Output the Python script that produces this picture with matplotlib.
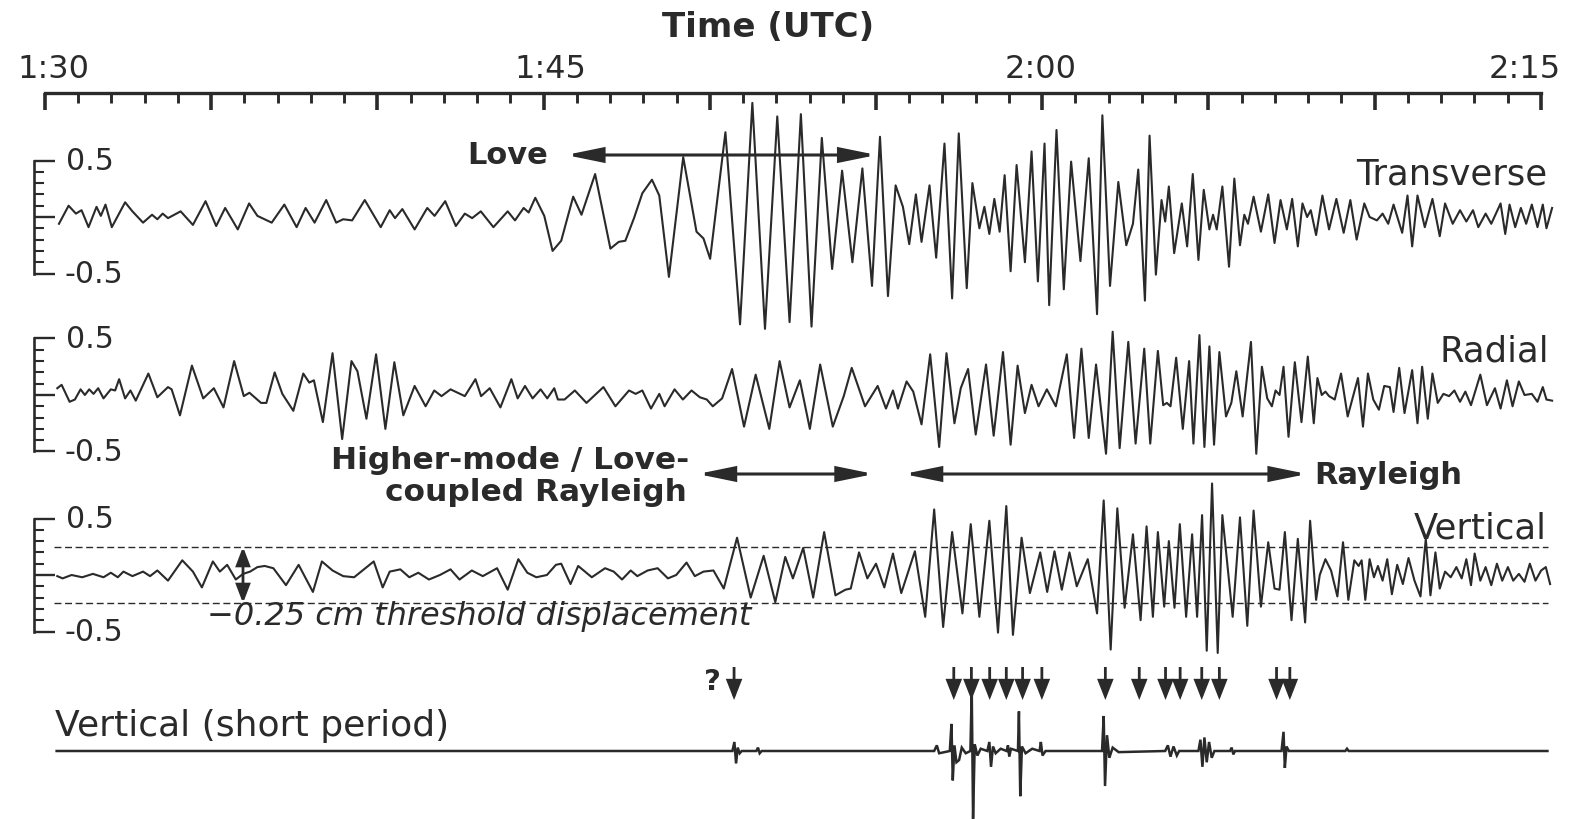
import numpy as np
import matplotlib
matplotlib.use("Agg")
import matplotlib.pyplot as plt
from matplotlib.patches import FancyArrowPatch
from matplotlib.ticker import FixedLocator, NullFormatter

# ---------------- DATA (time in minutes after 1:30 UTC, displacement in cm) ----------------
trans_t = [0.42, 0.71, 0.93, 1.10, 1.31, 1.55, 1.68, 1.82, 2.01, 2.41, 2.63, 2.95, 3.22, 3.38, 3.54, 3.70,
           4.08, 4.45, 4.83, 5.15, 5.42, 5.80, 6.14, 6.39, 6.82, 7.20, 7.57, 7.84, 8.11, 8.46, 8.76, 8.97,
           9.24, 9.62, 10.10, 10.37, 10.53, 10.75, 11.12, 11.50, 11.72, 12.04, 12.36, 12.63, 12.85, 13.11,
           13.49, 13.92, 14.14, 14.40, 14.55, 14.75,
           15.02, 15.27, 15.53, 15.89, 16.14, 16.55, 17.01, 17.26, 17.46, 17.72, 17.97, 18.26, 18.48, 18.77,
           19.20, 19.60, 19.81, 20.01, 20.47, 20.91, 21.28, 21.66, 22.03, 22.40, 22.74, 23.06, 23.37, 23.68,
           23.98, 24.29, 24.59, 24.88, 25.12, 25.36, 25.59, 25.81, 26.00, 26.20, 26.37, 26.61, 26.81, 27.06,
           27.29, 27.49, 27.73, 27.90, 28.11, 28.26, 28.41, 28.56, 28.72, 28.87, 29.05, 29.23, 29.48, 29.68,
           29.87, 30.07,
           30.21, 30.43, 30.65, 30.87, 31.15, 31.40, 31.65, 31.81, 32.04, 32.29, 32.53, 32.73, 32.89, 33.09,
           33.23, 33.42, 33.59, 33.70, 33.81, 33.97, 34.20, 34.36, 34.53, 34.70, 34.86, 35.03, 35.14, 35.25,
           35.42, 35.62, 35.78, 35.95, 36.08, 36.19, 36.36, 36.58, 36.80, 36.99, 37.17, 37.36, 37.52, 37.69,
           37.83, 37.97, 38.08, 38.24, 38.43, 38.63, 38.85, 39.07, 39.27, 39.46, 39.69, 39.85, 40.07, 40.24,
           40.41, 40.57, 40.83, 40.99, 41.13, 41.29, 41.51, 41.74, 41.96, 42.12, 42.35, 42.57, 42.76, 42.96,
           43.12, 43.34, 43.51, 43.79, 43.93, 44.06, 44.23, 44.40, 44.56, 44.73, 44.90, 45.06, 45.17, 45.34]
trans_a = [-0.06, 0.10, 0.03, 0.06, -0.09, 0.09, 0.01, 0.11, -0.09, 0.13, 0.05, -0.05, 0.02, -0.02, 0.03, -0.01,
           0.05, -0.07, 0.14, -0.08, 0.08, -0.11, 0.12, 0.01, -0.05, 0.11, -0.09, 0.08, -0.05, 0.15, -0.05, -0.02,
           -0.03, 0.15, -0.09, 0.06, -0.01, 0.07, -0.11, 0.08, 0.01, 0.14, -0.08, 0.03, -0.01, 0.05,
           -0.09, 0.05, -0.03, 0.08, 0.04, 0.17,
           0.01, -0.30, -0.21, 0.18, 0.02, 0.38, -0.28, -0.22, -0.21, -0.01, 0.21, 0.33, 0.19, -0.53,
           0.53, -0.13, -0.19, -0.37, 0.75, -0.95, 1.01, -0.99, 0.89, -0.93, 0.91, -0.97, 0.70, -0.46,
           0.41, -0.40, 0.43, -0.61, 0.71, -0.70, 0.28, 0.09, -0.24, 0.20, -0.22, 0.28, -0.36, 0.65,
           -0.72, 0.74, -0.63, 0.30, -0.10, 0.09, -0.15, 0.16, -0.13, 0.37, -0.48, 0.46, -0.40, 0.58,
           -0.57, 0.65,
           -0.78, 0.77, -0.64, 0.49, -0.39, 0.52, -0.86, 0.90, -0.61, 0.31, -0.25, -0.06, 0.42, -0.74,
           0.72, -0.51, 0.15, -0.04, 0.27, -0.32, 0.12, -0.26, 0.38, -0.38, 0.24, -0.11, 0.02, -0.11,
           0.27, -0.44, 0.34, -0.25, 0.02, -0.06, 0.18, -0.13, 0.20, -0.23, 0.15, -0.11, 0.16, -0.26,
           0.12, 0.00, 0.06, -0.16, 0.19, -0.11, 0.16, -0.14, 0.15, -0.20, 0.12, 0.00, -0.03, 0.03,
           -0.06, 0.11, -0.14, 0.19, -0.26, 0.19, -0.09, 0.16, -0.17, 0.12, -0.06, 0.06, -0.04, 0.06,
           -0.09, 0.03, -0.06, 0.12, -0.15, 0.11, -0.09, 0.08, -0.06, 0.11, -0.09, 0.11, -0.10, 0.08]

radial_t = [0.37, 0.50, 0.74, 0.90, 1.07, 1.20, 1.33, 1.46, 1.60, 1.76, 1.98, 2.11, 2.23, 2.41, 2.57, 2.73,
            3.11, 3.38, 3.70, 3.81, 4.06, 4.42, 4.76, 5.08, 5.37, 5.69, 5.98, 6.15, 6.50, 6.66, 6.91, 7.14,
            7.47, 7.77, 7.95, 8.09, 8.36, 8.65, 8.94, 9.22, 9.40, 9.67, 9.96, 10.24, 10.51, 10.78, 11.12,
            11.45, 11.71, 11.93, 12.20, 12.63, 12.95, 13.12, 13.38, 13.70, 14.03, 14.22, 14.44, 14.67,
            14.91, 15.11, 15.32,
            15.43, 15.63, 15.94, 16.29, 16.80, 17.16, 17.57, 17.77, 17.97, 18.23, 18.48, 18.64, 18.94,
            19.19, 19.45, 19.70, 19.91, 20.09, 20.37, 20.67, 21.03, 21.38, 21.79, 22.10, 22.40, 22.71,
            23.01, 23.32, 23.70, 24.03, 24.27, 24.67, 25.05, 25.30, 25.51, 25.66, 25.92, 26.12, 26.37,
            26.63, 26.90, 27.12, 27.36, 27.55, 27.77, 28.00, 28.31, 28.54, 28.82, 29.05, 29.26, 29.48,
            29.68, 29.89, 30.14,
            30.41, 30.74, 30.96, 31.18, 31.40, 31.62, 31.92, 32.12, 32.33, 32.59, 32.81, 33.07, 33.25,
            33.48, 33.64, 33.75, 33.86, 34.03, 34.23, 34.42, 34.55, 34.73, 34.88, 35.03, 35.17, 35.33,
            35.53, 35.69, 35.84, 36.03, 36.28, 36.44, 36.61, 36.77, 36.91, 37.02, 37.14, 37.26, 37.41,
            37.60, 37.80, 37.99, 38.17, 38.28, 38.41, 38.52, 38.63, 38.80, 38.99, 39.19, 39.50, 39.65,
            39.80, 39.96, 40.13, 40.29, 40.46, 40.57, 40.74, 40.90, 41.13, 41.29, 41.43, 41.60, 41.74,
            41.90, 42.07, 42.24, 42.40, 42.57, 42.73, 42.90, 43.18, 43.38, 43.62, 43.79, 43.98, 44.15,
            44.34, 44.51, 44.73, 44.90, 45.06, 45.17, 45.34]
radial_a = [0.06, 0.09, -0.06, -0.04, 0.05, 0.00, 0.05, 0.01, 0.06, -0.03, 0.05, 0.04, 0.14, -0.03, 0.04, -0.05,
            0.19, -0.02, 0.07, 0.05, -0.18, 0.26, -0.03, 0.06, -0.11, 0.30, -0.01, 0.02, -0.07, -0.07, 0.20, 0.01,
            -0.14, 0.19, 0.11, 0.13, -0.24, 0.37, -0.39, 0.30, 0.21, -0.21, 0.36, -0.30, 0.29, -0.18, 0.08,
            -0.10, 0.04, -0.01, 0.05, -0.01, 0.14, -0.01, 0.06, -0.11, 0.14, -0.03, 0.08, -0.03,
            0.05, -0.03, 0.06,
            -0.04, -0.04, 0.04, -0.07, 0.07, -0.10, 0.04, 0.01, 0.04, -0.12, 0.01, -0.10, 0.05,
            -0.04, 0.04, -0.02, -0.04, -0.10, -0.03, 0.23, -0.28, 0.18, -0.30, 0.30, -0.11, 0.13,
            -0.30, 0.27, -0.28, -0.01, 0.24, -0.10, 0.08, -0.12, 0.04, -0.12, 0.12, 0.03, -0.26,
            0.36, -0.46, 0.37, -0.25, 0.06, 0.23, -0.35, 0.27, -0.36, 0.38, -0.44, 0.26, -0.16,
            0.09, -0.10, 0.05,
            -0.10, 0.36, -0.38, 0.41, -0.38, 0.27, -0.52, 0.56, -0.47, 0.47, -0.43, 0.41, -0.43,
            0.39, -0.09, -0.07, -0.10, 0.33, -0.30, 0.30, -0.43, 0.53, -0.46, 0.43, -0.44, 0.38,
            -0.19, -0.07, 0.21, -0.19, 0.47, -0.52, 0.25, -0.03, -0.10, 0.04, 0.00, 0.25, -0.37,
            0.29, -0.24, 0.34, -0.25, 0.15, 0.00, 0.03, -0.01, -0.04, 0.19, -0.19, 0.15, -0.28,
            0.19, -0.04, -0.13, 0.08, 0.07, -0.15, 0.24, -0.16, 0.22, -0.25, 0.25, -0.21, 0.19,
            -0.07, 0.01, -0.01, 0.04, -0.06, 0.03, -0.09, 0.18, -0.09, 0.06, -0.12, 0.13, -0.10,
            0.12, 0.00, 0.01, -0.06, 0.07, -0.04, -0.05]

vert_t = [0.37, 0.53, 0.80, 1.12, 1.44, 1.76, 1.98, 2.19, 2.36, 2.63, 2.95, 3.16, 3.38, 3.70, 4.13, 4.45,
          4.72, 5.05, 5.26, 5.48, 5.74, 5.96, 6.17, 6.39, 6.61, 6.87, 7.25, 7.63, 8.06, 8.33, 8.65, 8.97,
          9.30, 9.51, 9.89, 10.16, 10.37, 10.69, 10.96, 11.23, 11.55, 11.88, 12.20, 12.47, 12.84, 13.17,
          13.60, 13.92, 14.24, 14.51, 14.78, 15.10, 15.37,
          15.53, 15.81, 16.04, 16.45, 16.85, 17.11, 17.36, 17.62, 17.82, 18.13, 18.43, 18.74, 18.99,
          19.30, 19.55, 19.81, 20.11, 20.42, 20.82, 21.23, 21.62, 21.97, 22.27, 22.50, 22.81, 23.11,
          23.44, 23.78, 24.08, 24.24, 24.49, 24.74, 25.00, 25.25, 25.51, 25.76, 26.17, 26.48, 26.75,
          27.02, 27.29, 27.60, 27.85, 28.11, 28.41, 28.67, 28.92, 29.12, 29.38, 29.63, 29.94,
          30.15, 30.37, 30.59, 30.82, 31.04, 31.37, 31.65, 31.85, 32.06, 32.26, 32.48, 32.73, 32.96,
          33.14, 33.33, 33.48, 33.67, 33.81, 33.98, 34.14, 34.33, 34.51, 34.66, 34.81, 34.95, 35.11,
          35.28, 35.42, 35.73, 35.95, 36.17, 36.36, 36.58, 36.80, 36.99, 37.14, 37.30, 37.50, 37.69,
          37.91, 38.06, 38.24, 38.35, 38.52, 38.69, 38.88, 39.05, 39.21, 39.39, 39.52, 39.61, 39.72,
          39.85, 39.98, 40.10, 40.24, 40.38, 40.52, 40.68, 40.85, 41.02, 41.20, 41.38, 41.54, 41.68,
          41.83, 41.96, 42.12, 42.29, 42.46, 42.62, 42.76, 42.90, 43.01, 43.18, 43.34, 43.51, 43.68,
          43.84, 44.01, 44.17, 44.34, 44.51, 44.67, 44.84, 45.01, 45.15, 45.28]
vert_a = [-0.01, -0.03, 0.00, -0.02, 0.01, -0.02, 0.02, -0.02, 0.03, -0.01, 0.03, -0.01, 0.04, -0.05, 0.13, 0.03,
          -0.11, 0.12, 0.03, 0.09, -0.04, 0.01, 0.03, 0.07, 0.08, 0.06, -0.09, 0.09, -0.15, 0.12, 0.04, -0.01,
          -0.02, 0.03, 0.12, -0.11, 0.03, 0.05, -0.02, 0.02, -0.04, 0.00, 0.05, -0.04, 0.04, -0.01,
          0.06, -0.13, 0.14, 0.02, -0.02, 0.00, 0.09,
          0.10, -0.08, 0.08, -0.02, 0.06, 0.03, -0.04, 0.04, -0.01, 0.04, 0.06, -0.03, 0.00,
          0.11, -0.01, 0.03, 0.04, -0.12, 0.33, -0.20, 0.17, -0.24, 0.16, -0.03, 0.24, -0.20,
          0.38, -0.18, -0.13, -0.12, 0.20, -0.03, 0.10, -0.11, 0.19, -0.16, 0.21, -0.37, 0.58,
          -0.46, 0.38, -0.34, 0.45, -0.37, 0.48, -0.51, 0.61, -0.53, 0.33, -0.16, 0.20,
          -0.15, 0.21, -0.13, 0.20, -0.10, 0.14, -0.34, 0.66, -0.66, 0.59, -0.29, 0.36, -0.40,
          0.43, -0.37, 0.38, -0.28, 0.30, -0.29, 0.45, -0.37, 0.36, -0.37, 0.53, -0.67, 0.81,
          -0.69, 0.53, -0.37, 0.51, -0.45, 0.57, -0.28, 0.29, -0.12, -0.13, 0.38, -0.40, 0.32,
          -0.42, 0.48, -0.22, 0.00, 0.14, 0.04, -0.19, 0.29, -0.22, 0.13, 0.08, 0.13, -0.22,
          0.14, -0.02, 0.08, -0.05, 0.14, -0.17, 0.09, -0.08, 0.15, -0.05, -0.19, 0.32, -0.18,
          0.20, -0.12, 0.03, -0.02, 0.07, -0.03, 0.14, -0.09, 0.19, -0.05, 0.07, -0.09, 0.10,
          -0.05, 0.07, -0.05, 0.01, -0.06, 0.10, -0.05, 0.04, 0.07, -0.08]

# short-period vertical record (relative amplitude, same drawing scale)
sp_t = [0.35, 20.68, 20.74, 20.79, 20.84, 20.90, 20.96, 21.40, 21.45, 21.50, 21.56,
        26.75, 26.83, 26.90, 27.22, 27.27, 27.31, 27.36, 27.42, 27.50, 27.58, 27.70, 27.84, 27.88,
        27.92, 27.97, 28.05, 28.15, 28.35, 28.41, 28.46, 28.52, 28.60, 28.75, 28.93, 28.97, 29.01,
        29.06, 29.27, 29.30, 29.34, 29.39, 29.50, 29.70, 29.92, 29.96, 30.01, 30.10, 31.80, 31.85,
        31.89, 31.95, 32.02, 32.12, 32.30, 33.70, 33.78, 33.86, 33.95, 34.05, 34.12, 34.70, 34.76,
        34.82, 34.88, 34.95, 35.02, 35.10, 35.18, 35.65, 35.70, 35.75, 35.80, 37.20, 37.26, 37.30,
        37.35, 37.42, 39.12, 39.17, 39.22, 45.20]
sp_a = [0.00, 0.00, 0.08, -0.11, 0.03, -0.02, 0.00, 0.00, 0.03, -0.02, 0.00,
        0.00, 0.05, -0.02, 0.00, 0.24, -0.26, 0.05, -0.10, -0.08, 0.03, -0.02, 0.00, 0.55,
        -0.60, 0.06, -0.04, 0.02, 0.00, 0.08, -0.14, 0.04, -0.02, 0.02, 0.00, 0.05, -0.05,
        0.02, 0.00, 0.35, -0.40, 0.04, -0.02, 0.02, 0.00, 0.08, -0.04, 0.00, 0.00, 0.31,
        -0.31, 0.14, -0.06, 0.03, -0.01, 0.00, 0.05, -0.05, 0.04, -0.04, 0.00, 0.00, 0.10,
        -0.14, 0.12, -0.10, 0.08, -0.06, 0.00, 0.00, 0.03, -0.03, 0.00, 0.00, 0.17, -0.15,
        0.04, 0.00, 0.00, 0.02, 0.00, 0.00]

# arrival picks (down arrows), minutes after 1:30
pick_query = 20.73
picks = [27.34, 27.87, 28.42, 28.92, 29.41, 29.99, 31.90, 32.92, 33.71, 34.15, 34.80, 35.33, 37.05, 37.45]

# phase windows (minutes after 1:30)
love_window = (15.67, 25.02)
higher_mode_window = (19.63, 24.94)
rayleigh_window = (25.83, 37.97)
threshold_cm = 0.25

time_ticks_major = list(range(0, 46, 5))
time_ticks_minor = list(range(0, 46, 1))
time_labels = {0: "1:30", 15: "1:45", 30: "2:00", 45: "2:15"}
scale_major = [-0.5, 0.0, 0.5]
scale_minor = [-0.4, -0.3, -0.2, -0.1, 0.1, 0.2, 0.3, 0.4]

# ---------------- LAYOUT ----------------
W, H = 1577, 819
X0_PX = 45.0
PX_PER_MIN = 33.24
PX_PER_CM = 113.0
XLIM = (-X0_PX / PX_PER_MIN, (W - X0_PX) / PX_PER_MIN)
BAR_T = (34 - X0_PX) / PX_PER_MIN
INK = '#2a2a2a'

plt.rcParams['font.family'] = ['DejaVu Sans']
fig = plt.figure(figsize=(W / 100, H / 100), dpi=100)
fig.patch.set_facecolor('white')


def px_t(px):
    return (px - X0_PX) / PX_PER_MIN


def trace_axes(baseline_px, bar=True):
    ax = fig.add_axes([0, 0, 1, 1])
    ax.set_xlim(*XLIM)
    ax.set_ylim((baseline_px - H) / PX_PER_CM, baseline_px / PX_PER_CM)
    ax.patch.set_visible(False)
    for s in ('top', 'right', 'bottom'):
        ax.spines[s].set_visible(False)
    ax.xaxis.set_visible(False)
    if bar:
        sp = ax.spines['left']
        sp.set_position(('data', BAR_T))
        sp.set_bounds(-0.5, 0.5)
        sp.set_linewidth(1.9)
        sp.set_color(INK)
        ax.yaxis.set_major_locator(FixedLocator(scale_major))
        ax.yaxis.set_minor_locator(FixedLocator(scale_minor))
        ax.yaxis.set_major_formatter(NullFormatter())
        ax.tick_params(axis='y', which='both', direction='in', left=True, right=False,
                       labelleft=False, color=INK)
        ax.tick_params(axis='y', which='major', length=15, width=1.7)
        ax.tick_params(axis='y', which='minor', length=7, width=1.5)
    else:
        ax.spines['left'].set_visible(False)
        ax.yaxis.set_visible(False)
    return ax


def darrow(ax, p1, p2, style, lw, ms=10):
    ax.add_patch(FancyArrowPatch(p1, p2, arrowstyle=style, mutation_scale=ms, lw=lw,
                                 color=INK, shrinkA=0, shrinkB=0, clip_on=False,
                                 joinstyle='miter', capstyle='butt'))


line_kw = dict(color=INK, lw=1.5, solid_joinstyle='round', clip_on=False)

ax_T = trace_axes(217)
ax_T.plot(trans_t, trans_a, **line_kw)

ax_R = trace_axes(395)
ax_R.plot(radial_t, radial_a, **line_kw)

ax_V = trace_axes(575)
ax_V.plot(vert_t, vert_a, **line_kw)
for lev in (threshold_cm, -threshold_cm):
    ax_V.plot([px_t(54), px_t(1548)], [lev, lev], color=INK, lw=1.0, ls=(0, (5, 2.6)))
darrow(ax_V, (px_t(243), threshold_cm), (px_t(243), -threshold_cm),
       '<|-|>,head_length=1.1,head_width=0.42', 2.0)

ax_S = trace_axes(751, bar=False)
ax_S.plot(sp_t, sp_a, color=INK, lw=1.8, solid_joinstyle='miter', clip_on=False)

# ---------------- overlay: time axis + annotations (x in minutes, y in pixel rows) -----------
ax_o = fig.add_axes([0, 0, 1, 1])
ax_o.set_xlim(*XLIM)
ax_o.set_ylim(H, 0)
ax_o.patch.set_visible(False)
for s in ('left', 'right', 'bottom'):
    ax_o.spines[s].set_visible(False)
ax_o.yaxis.set_visible(False)
top = ax_o.spines['top']
top.set_position(('data', 93))
top.set_bounds(0, 45)
top.set_linewidth(2.4)
top.set_color(INK)
ax_o.xaxis.set_ticks_position('top')
ax_o.xaxis.set_major_locator(FixedLocator(time_ticks_major))
ax_o.xaxis.set_minor_locator(FixedLocator(time_ticks_minor))
ax_o.xaxis.set_major_formatter(NullFormatter())
ax_o.tick_params(axis='x', which='both', direction='in', top=True, bottom=False,
                 labeltop=False, labelbottom=False, color=INK)
ax_o.tick_params(axis='x', which='major', length=12.5, width=2.6)
ax_o.tick_params(axis='x', which='minor', length=7, width=2.1)

label_offsets_px = {0: 8.6, 15: 7.0, 30: -2.0, 45: -16.5}
for v, lab in time_labels.items():
    ax_o.text(v + label_offsets_px[v] / PX_PER_MIN, 78.5, lab, ha='center', va='baseline',
              fontsize=23, color=INK)
ax_o.text(px_t(768), 37, "Time (UTC)", ha='center', va='baseline', fontsize=24.5,
          fontweight='bold', color=INK)

# scale bar labels
for base in (217, 395, 575):
    ax_o.text(px_t(66), base - 56.5 + 9.5, "0.5", ha='left', va='baseline', fontsize=21.5, color=INK)
    ax_o.text(px_t(64), base + 56.5 + 9.5, "-0.5", ha='left', va='baseline', fontsize=21.5, color=INK)

# trace names
ax_o.text(px_t(1547), 184.5, "Transverse", ha='right', va='baseline', fontsize=25.5, color=INK)
ax_o.text(px_t(1549), 361.5, "Radial", ha='right', va='baseline', fontsize=25.5, color=INK)
ax_o.text(px_t(1547), 538.5, "Vertical", ha='right', va='baseline', fontsize=25.5, color=INK)
ax_o.text(px_t(55), 736, "Vertical (short period)", ha='left', va='baseline', fontsize=26, color=INK)

# phase annotations
ax_o.text(px_t(548), 164, "Love", ha='right', va='baseline', fontsize=22, fontweight='bold', color=INK)
darrow(ax_o, (love_window[0], 155), (love_window[1], 155),
       '<|-|>,head_length=2.2,head_width=0.45', 2.2)
ax_o.text(px_t(689), 469, "Higher-mode / Love-", ha='right', va='baseline', fontsize=22.5,
          fontweight='bold', color=INK)
ax_o.text(px_t(687), 501, "coupled Rayleigh", ha='right', va='baseline', fontsize=22.5,
          fontweight='bold', color=INK)
darrow(ax_o, (higher_mode_window[0], 474), (higher_mode_window[1], 474),
       '<|-|>,head_length=2.2,head_width=0.45', 2.2)
darrow(ax_o, (rayleigh_window[0], 474), (rayleigh_window[1], 474),
       '<|-|>,head_length=2.2,head_width=0.45', 2.2)
ax_o.text(px_t(1314), 484, "Rayleigh", ha='left', va='baseline', fontsize=22, fontweight='bold',
          color=INK)
ax_o.text(px_t(207), 624.5, "\u22120.25 cm threshold displacement", ha='left', va='baseline',
          fontsize=23, fontstyle='italic', color=INK)

# arrival picks
ax_o.text(px_t(712), 690, "?", ha='center', va='baseline', fontsize=21, fontweight='bold', color=INK)
for t in [pick_query] + picks:
    darrow(ax_o, (t, 667), (t, 700), '-|>,head_length=1.15,head_width=0.45', 2.0)

fig.savefig("out.png", dpi=100, facecolor='white')
